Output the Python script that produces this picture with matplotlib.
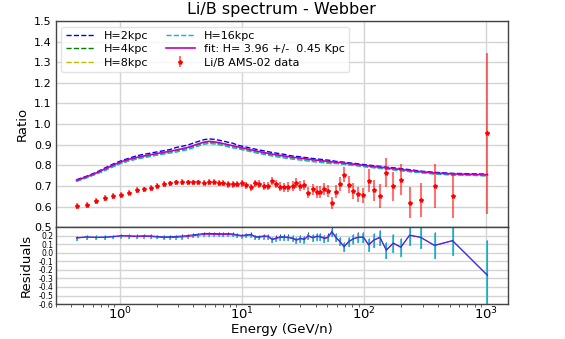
import numpy as np
import matplotlib
matplotlib.use("Agg")
import matplotlib.pyplot as plt

energy = [0.442, 0.534, 0.637, 0.754, 0.881, 1.025, 1.185, 1.370, 1.563, 1.783,
          2.018, 2.29, 2.56, 2.87, 3.21, 3.58, 3.97, 4.40, 4.86, 5.34,
          5.90, 6.45, 7.05, 7.68, 8.40, 9.17, 9.95, 10.87, 11.85, 12.88,
          13.87, 15.13, 16.32, 17.74, 19.11, 20.61, 22.22, 23.95, 25.98, 27.86,
          30.04, 32.38, 34.9, 37.8, 40.8, 43.8, 47.2, 50.5, 54.4, 58.7,
          63.3, 68.5, 74.5, 81.4, 89.5, 98.3, 108.7, 120.0, 134.4, 151.6,
          173.0, 199.5, 235, 289, 376, 528, 1020]

ratio = [0.602, 0.608, 0.626, 0.642, 0.652, 0.657, 0.668, 0.680, 0.683, 0.689,
         0.700, 0.709, 0.712, 0.717, 0.718, 0.717, 0.717, 0.717, 0.716, 0.718,
         0.718, 0.715, 0.713, 0.707, 0.707, 0.709, 0.712, 0.702, 0.693, 0.712,
         0.710, 0.698, 0.698, 0.725, 0.709, 0.696, 0.694, 0.694, 0.700, 0.715,
         0.698, 0.704, 0.668, 0.684, 0.670, 0.670, 0.686, 0.673, 0.618, 0.672,
         0.709, 0.755, 0.706, 0.676, 0.659, 0.655, 0.725, 0.678, 0.650, 0.765,
         0.698, 0.731, 0.618, 0.631, 0.699, 0.652, 0.955]

ratio_err = [0.014, 0.014, 0.014, 0.014, 0.014, 0.014, 0.014, 0.014, 0.014, 0.014,
             0.014, 0.014, 0.014, 0.014, 0.014, 0.014, 0.014, 0.014, 0.014, 0.014,
             0.015, 0.015, 0.015, 0.015, 0.015, 0.016, 0.016, 0.016, 0.017, 0.017,
             0.018, 0.019, 0.019, 0.020, 0.020, 0.021, 0.022, 0.023, 0.024, 0.025,
             0.025, 0.026, 0.026, 0.027, 0.028, 0.028, 0.029, 0.029, 0.030, 0.031,
             0.033, 0.038, 0.040, 0.039, 0.036, 0.036, 0.055, 0.053, 0.057, 0.072,
             0.070, 0.075, 0.075, 0.083, 0.105, 0.109, 0.390]

model_2kpc = [0.730, 0.747, 0.765, 0.787, 0.806, 0.822, 0.834, 0.846, 0.853, 0.859,
              0.865, 0.871, 0.876, 0.886, 0.892, 0.898, 0.907, 0.916, 0.924, 0.928,
              0.926, 0.922, 0.917, 0.912, 0.907, 0.898, 0.893, 0.888, 0.883, 0.878,
              0.874, 0.870, 0.866, 0.862, 0.859, 0.856, 0.853, 0.848, 0.845, 0.843,
              0.841, 0.838, 0.836, 0.833, 0.831, 0.829, 0.827, 0.825, 0.823, 0.819,
              0.817, 0.815, 0.812, 0.810, 0.807, 0.804, 0.801, 0.798, 0.795, 0.791,
              0.788, 0.784, 0.779, 0.772, 0.766, 0.761, 0.757]

model_4kpc = [0.724, 0.741, 0.759, 0.776, 0.795, 0.811, 0.823, 0.832, 0.839, 0.845,
              0.851, 0.857, 0.862, 0.868, 0.874, 0.880, 0.889, 0.898, 0.906, 0.910,
              0.908, 0.904, 0.899, 0.894, 0.889, 0.884, 0.879, 0.874, 0.869, 0.864,
              0.860, 0.856, 0.852, 0.848, 0.845, 0.842, 0.839, 0.836, 0.833, 0.831,
              0.829, 0.826, 0.824, 0.821, 0.819, 0.817, 0.815, 0.813, 0.811, 0.811,
              0.809, 0.807, 0.804, 0.802, 0.799, 0.796, 0.793, 0.790, 0.787, 0.783,
              0.780, 0.776, 0.771, 0.765, 0.759, 0.754, 0.750]

model_8kpc = [0.723, 0.740, 0.758, 0.775, 0.794, 0.810, 0.822, 0.831, 0.838, 0.844,
              0.850, 0.856, 0.861, 0.865, 0.871, 0.877, 0.886, 0.895, 0.903, 0.907,
              0.905, 0.901, 0.896, 0.891, 0.886, 0.882, 0.877, 0.872, 0.867, 0.862,
              0.858, 0.854, 0.850, 0.846, 0.843, 0.840, 0.837, 0.834, 0.831, 0.829,
              0.827, 0.824, 0.822, 0.819, 0.817, 0.815, 0.813, 0.811, 0.809, 0.810,
              0.808, 0.806, 0.803, 0.801, 0.798, 0.795, 0.792, 0.789, 0.786, 0.782,
              0.779, 0.775, 0.770, 0.765, 0.759, 0.754, 0.750]

model_16kpc = [0.722, 0.739, 0.757, 0.774, 0.793, 0.809, 0.821, 0.830, 0.837, 0.843,
               0.849, 0.855, 0.860, 0.864, 0.870, 0.876, 0.885, 0.894, 0.902, 0.906,
               0.904, 0.900, 0.895, 0.890, 0.885, 0.881, 0.876, 0.871, 0.866, 0.861,
               0.857, 0.853, 0.849, 0.845, 0.842, 0.839, 0.836, 0.833, 0.830, 0.828,
               0.826, 0.823, 0.821, 0.818, 0.816, 0.814, 0.812, 0.810, 0.808, 0.809,
               0.807, 0.805, 0.802, 0.800, 0.797, 0.794, 0.791, 0.788, 0.785, 0.781,
               0.778, 0.774, 0.769, 0.764, 0.758, 0.753, 0.749]

model_fit = [0.727, 0.744, 0.762, 0.782, 0.801, 0.817, 0.829, 0.838, 0.845, 0.851,
             0.857, 0.863, 0.868, 0.874, 0.880, 0.886, 0.895, 0.904, 0.912, 0.916,
             0.914, 0.910, 0.905, 0.900, 0.895, 0.890, 0.885, 0.880, 0.875, 0.870,
             0.866, 0.862, 0.858, 0.854, 0.851, 0.848, 0.845, 0.842, 0.839, 0.837,
             0.835, 0.832, 0.830, 0.827, 0.825, 0.823, 0.821, 0.819, 0.817, 0.815,
             0.813, 0.811, 0.808, 0.806, 0.803, 0.800, 0.797, 0.794, 0.791, 0.787,
             0.784, 0.780, 0.775, 0.769, 0.763, 0.758, 0.754]

model_labels = ["H=2kpc", "H=4kpc", "H=8kpc", "H=16kpc"]
model_colors = ["b", "g", "y", "c"]
fit_label = "fit: H= 3.96 +/-  0.45 Kpc"
data_label = "Li/B AMS-02 data"

E = np.array(energy)
R = np.array(ratio)
Rerr = np.array(ratio_err)
models = [np.array(model_2kpc), np.array(model_4kpc), np.array(model_8kpc), np.array(model_16kpc)]
fit = np.array(model_fit)

plt.rcParams['font.family'] = ['DejaVu Sans']
fig = plt.figure(figsize=(5.65, 3.39), dpi=100)
ax = fig.add_axes([0.099, 0.330, 0.800, 0.608])
axr = fig.add_axes([0.099, 0.103, 0.800, 0.227], sharex=ax)

grid_kw = dict(color="#d4d4d4", linewidth=1.0)
for a in (ax, axr):
    a.set_facecolor("white")
    a.grid(True, which="major", **grid_kw)
    a.set_axisbelow(True)
    for s in a.spines.values():
        s.set_color("#444444")
        s.set_linewidth(1.0)

for m, lab, c in zip(models, model_labels, model_colors):
    ax.plot(E, m, linestyle="--", color=c, linewidth=1.0, label=lab)
ax.plot(E, fit, linestyle="-", color="m", linewidth=1.2, label=fit_label)
ax.errorbar(E, R, yerr=Rerr, fmt="*", color="red", markersize=3,
            ecolor=(1, 0, 0, 0.55), elinewidth=1.5, label=data_label)

ax.set_xscale("log")
ax.set_xlim(0.30, 1500)
ax.set_ylim(0.5, 1.5)
ax.set_yticks(np.arange(0.5, 1.51, 0.1))
ax.tick_params(axis="y", labelsize=8, length=0, pad=3)
ax.tick_params(axis="x", which="both", labelbottom=False, length=0)
ax.set_ylabel("Ratio", fontsize=9.5, labelpad=4)
ax.set_title("Li/B spectrum - Webber", fontsize=11.5, pad=5)
ax.legend(ncol=2, loc="upper left", fontsize=8, frameon=True,
          framealpha=0.8, edgecolor="#dddddd", handlelength=2.6,
          columnspacing=1.6, borderpad=0.4, labelspacing=0.3)

res_err = Rerr / R
res_models = [1 - R / m for m in models]
axr.errorbar(E, res_models[0], yerr=res_err, fmt="-", color="#3333dd",
             linewidth=0.8, elinewidth=0.8)
axr.errorbar(E, res_models[3], yerr=res_err, fmt="none", ecolor="#22bbcc",
             elinewidth=1.2)
axr.plot(E, 1 - R / fit, color="m", linewidth=0.7)

axr.set_ylim(-0.6, 0.3)
axr.set_yticks(np.arange(-0.6, 0.21, 0.1))
axr.set_yticklabels(["%.1f" % v if abs(v) > 1e-9 else "0.0" for v in np.arange(-0.6, 0.21, 0.1)])
axr.tick_params(axis="y", labelsize=5.5, length=0, pad=2)
axr.tick_params(axis="x", which="major", labelsize=9.5, length=0, pad=1.5)
axr.tick_params(axis="x", which="minor", length=2, width=0.6, color="#444444")
axr.set_ylabel("Residuals", fontsize=9.5, labelpad=4)
axr.set_xlabel("Energy (GeV/n)", fontsize=9.5, labelpad=0)

fig.savefig("out.png", dpi=100)
